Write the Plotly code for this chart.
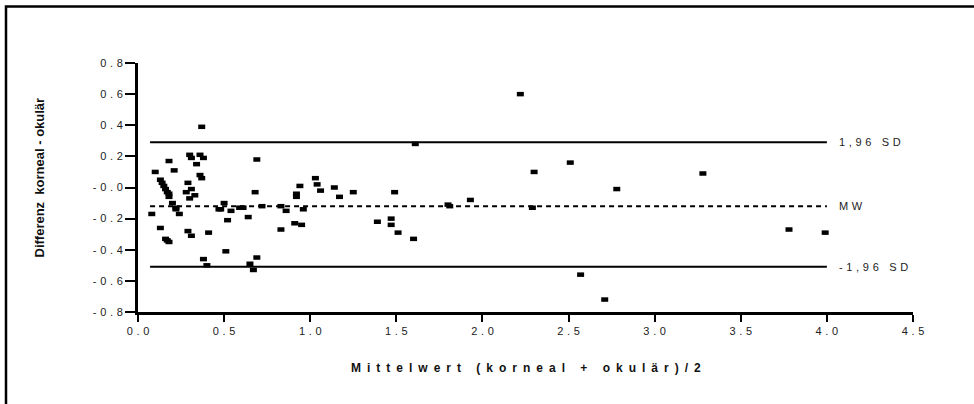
import plotly.graph_objects as go

# Bland-Altman: mean of both methods vs. difference
mean_vals = [0.37, 0.18, 0.30, 0.31, 0.36, 0.38, 0.34, 0.10, 0.21, 0.36, 0.37, 0.13, 0.14, 0.15,
             0.16, 0.17, 0.18, 0.18, 0.29, 0.31, 0.28, 0.33, 0.30, 0.20, 0.22, 0.22, 0.24, 0.08,
             0.13, 0.16, 0.17, 0.18, 0.29, 0.31, 0.41, 0.38, 0.40, 0.51, 0.52, 0.50, 0.47, 0.48,
             0.54, 0.59, 0.61, 0.64, 0.68, 0.69, 0.72, 0.69, 0.65, 0.67, 0.83, 0.86, 0.83, 0.91,
             0.95, 0.96, 0.92, 0.92, 0.94, 1.03, 1.04, 1.06, 1.14, 1.17, 1.25, 1.49, 1.39, 1.47,
             1.47, 1.51, 1.60, 1.61, 1.80, 1.81, 1.93, 2.22, 2.30, 2.29, 2.51, 2.78, 2.57, 2.71,
             3.28, 3.78, 3.99]
diff_vals = [0.39, 0.17, 0.21, 0.19, 0.21, 0.19, 0.15, 0.10, 0.11, 0.08, 0.06, 0.05, 0.03, 0.01,
             -0.01, -0.03, -0.04, -0.06, 0.03, -0.01, -0.03, -0.05, -0.07, -0.10, -0.13, -0.14, -0.17, -0.17,
             -0.26, -0.33, -0.34, -0.35, -0.28, -0.31, -0.29, -0.46, -0.50, -0.41, -0.21, -0.10, -0.14, -0.14,
             -0.15, -0.13, -0.13, -0.19, -0.03, 0.18, -0.12, -0.45, -0.49, -0.53, -0.12, -0.15, -0.27, -0.23,
             -0.24, -0.14, -0.06, -0.04, 0.01, 0.06, 0.02, -0.02, 0.00, -0.06, -0.03, -0.03, -0.22, -0.20,
             -0.24, -0.29, -0.33, 0.28, -0.11, -0.12, -0.08, 0.60, 0.10, -0.13, 0.16, -0.01, -0.56, -0.72,
             0.09, -0.27, -0.29]

# Reference lines: upper limit, mean difference, lower limit
ref_names = ["1,96 SD", "MW", "-1,96 SD"]
ref_values = [0.29, -0.12, -0.51]
ref_span = [0.07, 4.0]

x_ticks = [0.0, 0.5, 1.0, 1.5, 2.0, 2.5, 3.0, 3.5, 4.0, 4.5]
x_ticklabels = ["0.0", "0.5", "1.0", "1.5", "2.0", "2.5", "3.0", "3.5", "4.0", "4.5"]
y_ticks = [0.8, 0.6, 0.4, 0.2, 0.0, -0.2, -0.4, -0.6, -0.8]
y_ticklabels = ["0.8", "0.6", "0.4", "0.2", "-0.0", "-0.2", "-0.4", "-0.6", "-0.8"]

x_title = "Mittelwert (korneal + okulär)/2"
y_title = "Differenz  korneal - okulär"

FONT = "Arial, Liberation Sans, sans-serif"


def letterspaced(text, gap="\u2004"):
    """Widen the text by putting a narrow space between every character."""
    return gap.join("\u00a0" if ch == " " else ch for ch in text)


fig = go.Figure()

dash_styles = ["solid", "5px,4px", "solid"]
for name, val, dash in zip(ref_names, ref_values, dash_styles):
    fig.add_trace(go.Scatter(
        x=ref_span, y=[val, val], mode="lines",
        line=dict(color="black", width=2, dash=dash),
        hoverinfo="skip", showlegend=False,
    ))
    fig.add_annotation(
        x=ref_span[1] + 0.06, y=val, xref="x", yref="y", text=letterspaced(name),
        showarrow=False, xanchor="left", yanchor="middle",
        font=dict(family=FONT, size=11, color="#222"),
    )

fig.add_trace(go.Scatter(
    x=mean_vals, y=diff_vals, mode="markers",
    marker=dict(symbol="line-ew", size=5, color="black",
                line=dict(color="black", width=4.5)),
    showlegend=False,
))

fig.add_annotation(
    x=0.5, y=-0.225, xref="paper", yref="paper", text=letterspaced(x_title, "\u2002"),
    showarrow=False, xanchor="center", yanchor="middle",
    font=dict(family=FONT, size=12, color="#111", weight="bold"),
)
fig.add_annotation(
    x=-0.1265, y=0.54, xref="paper", yref="paper", text=y_title, textangle=-90,
    showarrow=False, xanchor="center", yanchor="middle",
    font=dict(family=FONT, size=13, color="#111", weight="bold"),
)

# outer frame around the whole graphic
fig.add_shape(
    type="rect", xref="paper", yref="paper",
    x0=(6 - 138) / 775, x1=(990 - 138) / 775,
    y0=(312 - 420) / 249, y1=(312 - 6.5) / 249,
    line=dict(color="black", width=2.5), fillcolor="rgba(0,0,0,0)", layer="above",
)

axis_common = dict(
    showgrid=False, zeroline=False, showline=True, linecolor="black", linewidth=3,
    ticks="outside", tickcolor="black", tickwidth=2,
    tickfont=dict(family=FONT, size=11, color="#222"),
)
fig.update_xaxes(range=[0, 4.5], tickvals=x_ticks,
                 ticktext=[letterspaced(t) for t in x_ticklabels], ticklen=7, **axis_common)
fig.update_yaxes(range=[-0.8, 0.8], tickvals=y_ticks,
                 ticktext=[letterspaced(t) for t in y_ticklabels], ticklen=10, **axis_common)

fig.update_layout(
    width=974, height=404,
    margin=dict(l=138, r=61, t=63, b=92),
    paper_bgcolor="white", plot_bgcolor="white",
    showlegend=False,
)

fig.write_html("out.html")
